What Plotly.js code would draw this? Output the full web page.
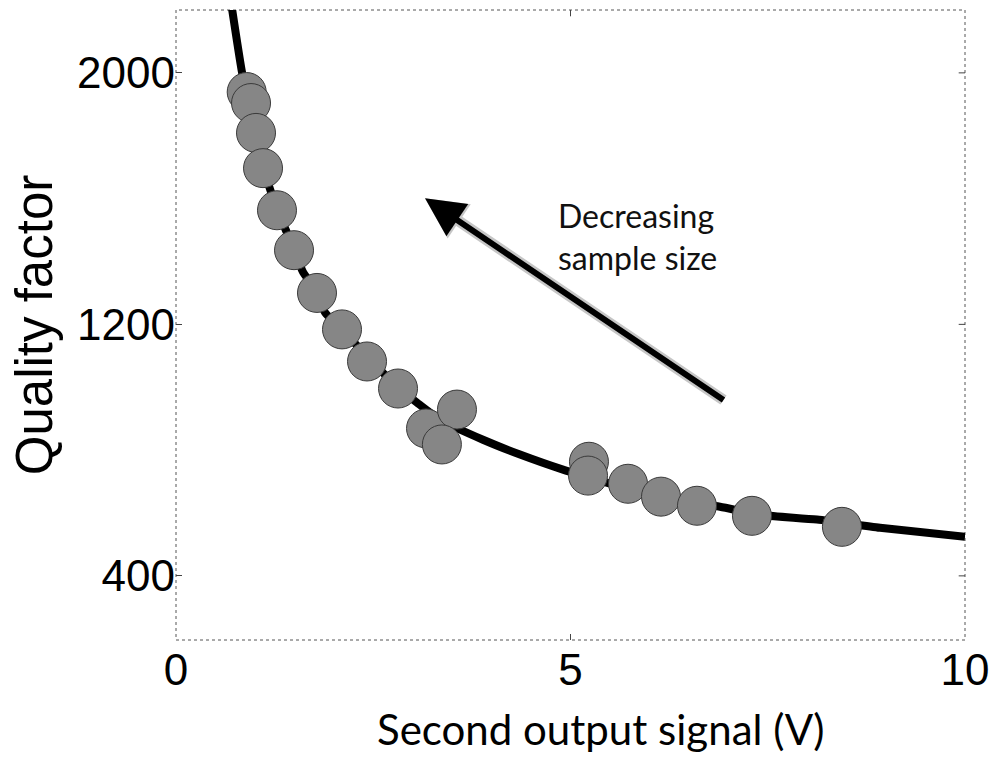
<!DOCTYPE html>
<html>
<head>
<meta charset="utf-8">
<script src="https://cdn.plot.ly/plotly-3.0.1.min.js"></script>
<style>
  html, body { margin: 0; padding: 0; background: #ffffff; }
  #chart { width: 995px; height: 768px; }
</style>
</head>
<body>
<div id="chart"></div>
<script>
// Fitted curve
const curveX = [0.710, 0.833, 0.887, 1.014, 1.115, 1.28, 1.496, 1.61, 1.787, 1.888, 2.104, 2.459, 2.814, 3.054, 3.346, 3.891, 4.36, 4.905, 5.374, 5.881, 6.388, 6.895, 7.402, 8.124, 8.923, 10.0];
const curveY = [2204, 2007, 1943, 1812, 1694, 1567, 1439, 1366, 1305, 1238, 1184, 1088, 999, 951, 897, 833, 786, 738, 703, 668, 639, 620, 594, 579, 553, 524];

// Measured samples
const sampleX = [0.896, 0.951, 1.014, 1.103, 1.28, 1.496, 1.787, 2.104, 2.421, 2.814, 3.169, 3.561, 3.37, 5.234, 5.222, 5.729, 6.147, 6.603, 7.30, 8.44];
const sampleY = [1939, 1904, 1809, 1697, 1563, 1436, 1300, 1184, 1082, 996, 869, 929, 818, 763, 719, 693, 652, 623, 591, 556];

// Axis ticks
const xTicks = [0, 5, 10];
const xTickText = ['0', '5', '10'];
const yTicks = [400, 1200, 2000];
const yTickText = ['400', '1200', '2000'];

// Arrow (head and tail) and its label
const arrowHead = [3.156, 1601];
const arrowTail = [6.958, 956];
const arrowLabel = 'Decreasing<br>sample size';

const traces = [
  {
    x: curveX, y: curveY, type: 'scatter', mode: 'lines',
    line: { color: '#000000', width: 8, shape: 'spline', smoothing: 0.6 },
    hoverinfo: 'skip', showlegend: false
  },
  {
    x: sampleX, y: sampleY, type: 'scatter', mode: 'markers',
    marker: { size: 39, color: '#868686', line: { color: '#3a3a3a', width: 1 } },
    showlegend: false
  }
];

const layout = {
  width: 995, height: 768,
  margin: { l: 176, r: 30, t: 10, b: 128 },
  paper_bgcolor: '#ffffff', plot_bgcolor: '#ffffff',
  showlegend: false,
  xaxis: {
    range: [0, 10], tickvals: xTicks, ticktext: xTickText,
    ticks: 'inside', ticklen: 6, tickcolor: '#444', tickwidth: 1,
    showgrid: false, zeroline: false, showline: false, mirror: false,
    tickfont: { family: 'Liberation Sans, Arial, sans-serif', size: 44, color: '#000' }
  },
  yaxis: {
    range: [196, 2200], tickvals: yTicks, ticktext: yTickText,
    ticks: 'inside', ticklen: 6, tickcolor: '#444', tickwidth: 1,
    showgrid: false, zeroline: false, showline: false,
    tickfont: { family: 'Liberation Sans, Arial, sans-serif', size: 44, color: '#000' },
    title: { text: 'Quality factor', standoff: 8,
             font: { family: 'Liberation Sans, Arial, sans-serif', size: 51, color: '#000' } }
  },
  shapes: [
    { type: 'rect', xref: 'paper', yref: 'paper', x0: 0, x1: 1, y0: 0, y1: 1,
      line: { color: '#555', width: 1, dash: 'dot' }, layer: 'below' },
    { type: 'line', xref: 'x', yref: 'paper', x0: 5, x1: 5, y0: 1, y1: 0.99,
      line: { color: '#444', width: 1 } },
    { type: 'line', xref: 'paper', yref: 'y', x0: 1, x1: 0.992, y0: 400, y1: 400,
      line: { color: '#444', width: 1 } },
    { type: 'line', xref: 'paper', yref: 'y', x0: 1, x1: 0.992, y0: 1200, y1: 1200,
      line: { color: '#444', width: 1 } },
    { type: 'line', xref: 'paper', yref: 'y', x0: 1, x1: 0.992, y0: 2000, y1: 2000,
      line: { color: '#444', width: 1 } }
  ],
  annotations: [
    { x: arrowHead[0], y: arrowHead[1], xref: 'x', yref: 'y',
      ax: arrowTail[0], ay: arrowTail[1], axref: 'x', ayref: 'y',
      showarrow: true, arrowhead: 2, arrowsize: 0.75, arrowwidth: 11,
      arrowcolor: 'rgba(0,0,0,0.22)', text: '' },
    { x: arrowHead[0], y: arrowHead[1], xref: 'x', yref: 'y',
      ax: arrowTail[0], ay: arrowTail[1], axref: 'x', ayref: 'y',
      showarrow: true, arrowhead: 2, arrowsize: 1.3, arrowwidth: 6, arrowcolor: '#000',
      text: '' },
    { x: 4.81, y: 1480, xref: 'x', yref: 'y', xanchor: 'left', yanchor: 'middle',
      align: 'left', showarrow: false, text: arrowLabel,
      font: { family: 'Lato, Open Sans, sans-serif', size: 32, color: '#111' } },
    { x: 0.539, y: 0, xref: 'paper', yref: 'paper', xanchor: 'center', yanchor: 'top',
      yshift: -62, showarrow: false, text: 'Second output signal (V)',
      font: { family: 'Lato, Open Sans, sans-serif', size: 42, color: '#000' } }
  ]
};

Plotly.newPlot('chart', traces, layout, { displayModeBar: false, staticPlot: true });
</script>
</body>
</html>
